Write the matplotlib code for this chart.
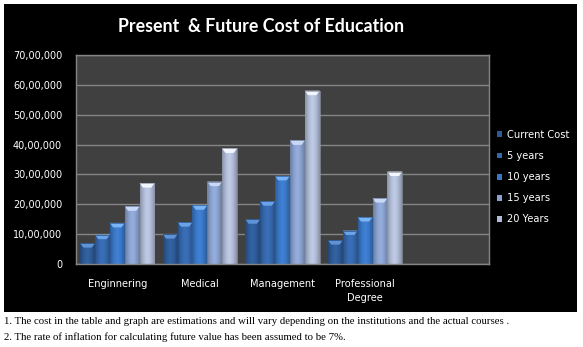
import numpy as np
import matplotlib
matplotlib.use("Agg")
import matplotlib.pyplot as plt
from matplotlib.colors import to_rgb
from matplotlib.patches import Rectangle, Polygon
from matplotlib.ticker import FuncFormatter, MultipleLocator

# ---- data -------------------------------------------------------------
categories = ["Enginnering", "Medical", "Management", "Professional\nDegree", ""]
series_names = ["Current Cost", "5 years", "10 years", "15 years", "20 Years"]
current_cost = [700000, 1000000, 1500000, 800000]
years_5 = [982000, 1403000, 2104000, 1122000]
years_10 = [1377000, 1967000, 2951000, 1574000]
years_15 = [1931000, 2759000, 4139000, 2207000]
years_20 = [2709000, 3870000, 5805000, 3096000]
series_values = [current_cost, years_5, years_10, years_15, years_20]
y_max = 7000000
y_step = 1000000

footnotes = [
    "1. The cost in the table and graph are estimations and will vary depending on the institutions and the actual courses .",
    "2. The rate of inflation for calculating future value has been assumed to be 7%.",
]

# ---- styling ----------------------------------------------------------
base_colors = ["#2e5b96", "#3567ab", "#3a77c5", "#8aa1cd", "#b0bbd5"]
cap_colors = ["#5f93d6", "#6aa3e8", "#79b4f5", "#c9d8f5", "#f2f6ff"]
W, H = 583, 347


def indian_format(v, _pos=None):
    s = str(int(round(v)))
    if len(s) <= 3:
        return s
    head, tail = s[:-3], s[-3:]
    groups = []
    while len(head) > 2:
        groups.insert(0, head[-2:])
        head = head[:-2]
    if head:
        groups.insert(0, head)
    return ",".join(groups + [tail])


def px_box(x0, y0, x1, y1):
    """Convert a pixel box (top-left origin) to figure fraction rect."""
    return [x0 / W, 1 - y1 / H, (x1 - x0) / W, (y1 - y0) / H]


fig = plt.figure(figsize=(W / 100, H / 100), dpi=100)
fig.patch.set_facecolor("white")

# black chart panel behind everything
fig.patches.append(Rectangle((4 / W, 1 - 312 / H), 573 / W, 308 / H,
                             transform=fig.transFigure, facecolor="black",
                             edgecolor="none", zorder=-5))

ax = fig.add_axes(px_box(76, 55, 489, 264))
ax.set_zorder(1)
ax.set_facecolor("#404040")
ax.set_xlim(-0.5, len(categories) - 0.5)
ax.set_ylim(0, y_max)
ax.yaxis.set_major_locator(MultipleLocator(y_step))
ax.yaxis.set_major_formatter(FuncFormatter(indian_format))
ax.grid(axis="y", color="#858585", linewidth=1.0)
ax.set_axisbelow(True)
for sp in ax.spines.values():
    sp.set_color("#858585")
    sp.set_linewidth(1.0)

ax.tick_params(axis="y", colors="white", labelsize=7, length=0, pad=10)
ax.tick_params(axis="x", colors="white", labelsize=7.1, length=0, pad=10.5)
ax.set_xticks(range(len(categories)))
ax.set_xticklabels(categories, linespacing=1.5)

n_series = len(series_values)
group_w = 0.90
bar_w = group_w / n_series
px_per_unit_y = 209 / y_max
cap_h = 4.5 / px_per_unit_y

for si, (vals, base, cap) in enumerate(zip(series_values, base_colors, cap_colors)):
    xs = np.arange(len(vals)) - group_w / 2 + bar_w * (si + 0.5)
    bars = ax.bar(xs, vals, width=bar_w, color=base, edgecolor="none",
                  label=series_names[si], zorder=2)
    rgb = np.array(to_rgb(base))
    # horizontal shading: darker at the sides, lighter in the middle
    t = np.linspace(-1, 1, 32)
    shade = 1.0 - 0.28 * np.abs(t) ** 1.6
    grad = np.clip(rgb[None, None, :] * shade[None, :, None] * 1.08, 0, 1)
    for b in bars:
        x0, w, h = b.get_x(), b.get_width(), b.get_height()
        im = ax.imshow(grad, extent=(x0, x0 + w, 0, h), aspect="auto",
                       zorder=2.1, interpolation="bilinear")
        im.set_clip_path(b)
        # bevelled cap on top
        inset = w * 0.22
        ax.add_patch(Polygon([(x0, h), (x0 + w, h), (x0 + w - inset, h - cap_h),
                              (x0 + inset, h - cap_h)], closed=True,
                             facecolor=cap, edgecolor="none", zorder=2.2))
        ax.add_patch(Rectangle((x0, 0), w, h, facecolor="none",
                               edgecolor=tuple(rgb * 0.8), linewidth=0.5,
                               zorder=2.3))

ax.set_xlim(-0.5, len(categories) - 0.5)
ax.set_ylim(0, y_max)

leg = ax.legend(loc="upper left", frameon=False, fontsize=7.1,
                labelcolor="white", handlelength=0.55, handleheight=0.55,
                handletextpad=0.5, labelspacing=1.12, borderaxespad=0,
                bbox_to_anchor=((493 - 76) / 413, (264 - 126) / 209),
                bbox_transform=ax.transAxes)

fig.text(261 / W, 1 - 27 / H, "Present  & Future Cost of Education",
         ha="center", va="center", color="white", fontsize=12.8,
         fontweight="bold", family="Lato")

for i, line in enumerate(footnotes):
    fig.text(4 / W, 1 - (322 + 15 * i) / H, line, ha="left", va="center",
             color="black", fontsize=7.75, family="Liberation Serif")

fig.savefig("out.png", dpi=100, facecolor="white")
